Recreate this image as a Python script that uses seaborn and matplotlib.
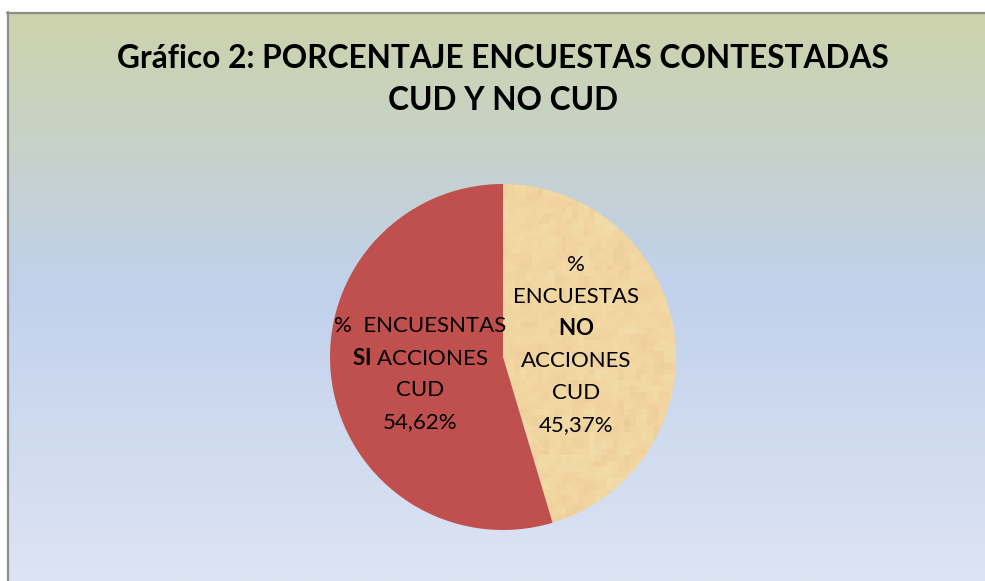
import numpy as np
import matplotlib
matplotlib.use("Agg")
import matplotlib.pyplot as plt
import seaborn as sns

sns.set_theme(style="white")

# ---- data ----
categories = ["NO", "SI"]
values = [45.37, 54.62]
value_labels = ["45,37%", "54,62%"]
slice_colors = ["#F1DAA9", "#C0504D"]
title_lines = ["Gráfico 2: PORCENTAJE ENCUESTAS CONTESTADAS", "CUD Y NO CUD"]

fam = "Lato"
plt.rcParams['font.family'] = [fam, 'DejaVu Sans']
plt.rcParams['mathtext.fontset'] = 'custom'
plt.rcParams['mathtext.rm'] = fam
plt.rcParams['mathtext.bf'] = fam + ':bold'

W, H = 985, 581
fig = plt.figure(figsize=(W / 100, H / 100), dpi=100)
fig.patch.set_facecolor("white")

# background gradient (chart area starts at x=7, y=12)
bg = fig.add_axes([7 / W, 0, 1 - 7 / W, 1 - 12 / H])
bg.set_axis_off()
stops_y = np.array([0.0, 0.48, 1.0])
stops_c = np.array([[205, 211, 170], [193, 209, 235], [221, 228, 243]]) / 255
yy = np.linspace(0, 1, 400)
grad = np.stack([np.interp(yy, stops_y, stops_c[:, k]) for k in range(3)], axis=-1)
bg.imshow(grad[:, None, :], aspect="auto", extent=[0, 1, 1, 0])
bg.set_xlim(0, 1); bg.set_ylim(1, 0)
# borders
fig.add_artist(plt.Line2D([7.5 / W, 7.5 / W], [0, 1 - 12 / H], color="#8C8C8C", lw=1.6))
fig.add_artist(plt.Line2D([7 / W, 1], [1 - 12.5 / H, 1 - 12.5 / H], color="#8C8C8C", lw=1.6))

# title
fig.text(503 / W, 1 - 58 / H, title_lines[0], ha="center", va="center",
         fontsize=22.8, fontweight="bold", color="#000000")
fig.text(503 / W, 1 - 101 / H, title_lines[1], ha="center", va="center",
         fontsize=22.8, fontweight="bold", color="#000000")

# pie
r = 173
cx, cy = 503, 357
ax = fig.add_axes([(cx - r) / W, 1 - (cy + r) / H, 2 * r / W, 2 * r / H])
ax.set_axis_off()
wedges, _ = ax.pie(values, colors=slice_colors, startangle=90, counterclock=False,
                   wedgeprops=dict(linewidth=0))
ax.set_aspect("equal")

# texture on beige slice
rng = np.random.default_rng(3)
tex = rng.normal(0, 1, (60, 60))
tex = (tex + np.roll(tex, 1, 0) + np.roll(tex, 1, 1)) / 3
im = ax.imshow(tex, extent=[-1, 1, -1, 1], cmap="YlOrBr_r", alpha=0.07, vmin=-2, vmax=2, zorder=3)
im.set_clip_path(wedges[0])

label_text = [
    ["%", "ENCUESTAS", r"$\mathbf{NO}$", "ACCIONES", "CUD", value_labels[0]],
    ["%  ENCUESNTAS", r"$\mathbf{SI}$ ACCIONES", "CUD", value_labels[1]],
]
label_pos = [(0.42, 0.07), (-0.48, -0.10)]
line_h = 32 / r
for lines, (lx, ly) in zip(label_text, label_pos):
    n = len(lines)
    for i, s in enumerate(lines):
        yv = ly + ((n - 1) / 2 - i) * line_h
        ax.text(lx, yv, s, ha="center", va="center", fontsize=16, color="#000000", zorder=5)

ax.set_xlim(-1, 1); ax.set_ylim(-1, 1)
fig.savefig("out.png", dpi=100, facecolor="white")
